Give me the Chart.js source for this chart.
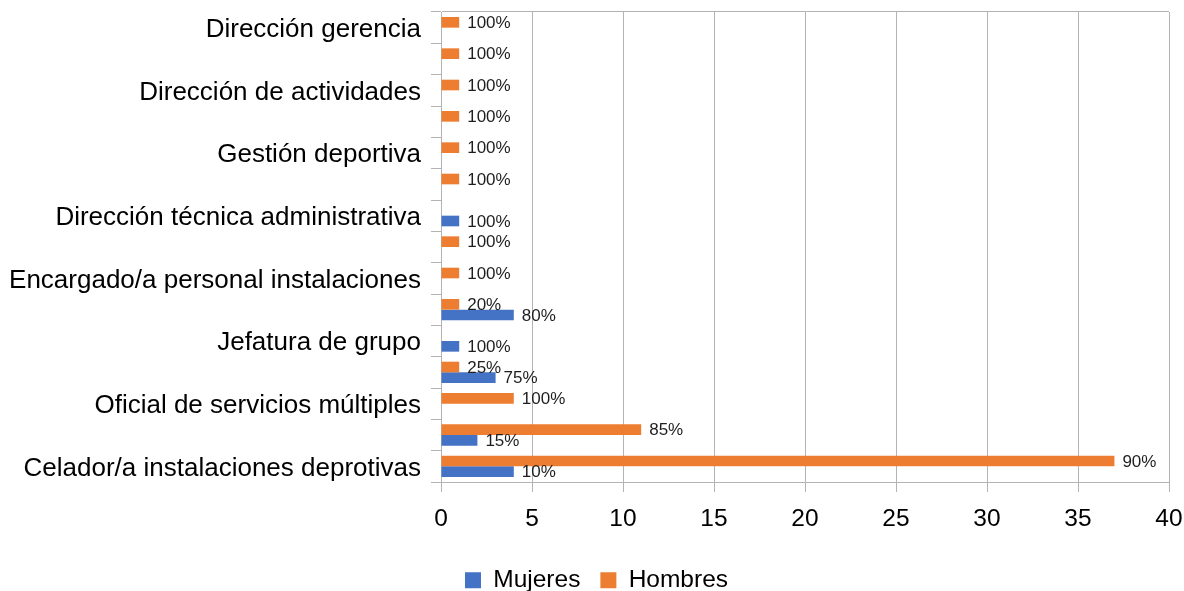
<!DOCTYPE html>
<html>
<head>
<meta charset="utf-8">
<script src="https://cdn.jsdelivr.net/npm/chart.js@4"></script>
<style>
  html, body { margin: 0; padding: 0; background: #ffffff; }
  canvas { display: block; }
</style>
</head>
<body>
<canvas id="c" width="1184" height="591"></canvas>
<script>
// Categories listed top to bottom (unlabeled rows in the reference have '' labels)
const categories = [
  'Dirección gerencia', '',
  'Dirección de actividades', '',
  'Gestión deportiva', '',
  'Dirección técnica administrativa', '',
  'Encargado/a personal instalaciones', '',
  'Jefatura de grupo', '',
  'Oficial de servicios múltiples', '',
  'Celador/a instalaciones deprotivas'
];
const mujeres = [0, 0, 0, 0, 0, 0, 1, 0, 0, 4, 1, 3, 0, 2, 4];
const hombres = [1, 1, 1, 1, 1, 1, 0, 1, 1, 1, 0, 1, 4, 11, 37];
const mujeresPct = [null, null, null, null, null, null, '100%', null, null, '80%', '100%', '75%', null, '15%', '10%'];
const hombresPct = ['100%', '100%', '100%', '100%', '100%', '100%', null, '100%', '100%', '20%', null, '25%', '100%', '85%', '90%'];
const xTicks = [0, 5, 10, 15, 20, 25, 30, 35, 40];

const FONT = '"Liberation Sans", Arial, sans-serif';
const GRID = '#b3b3b3';
Chart.defaults.font.family = FONT;
Chart.defaults.color = '#000000';

const pctLabels = {
  id: 'pctLabels',
  afterDatasetsDraw(chart) {
    const ctx = chart.ctx;
    ctx.save();
    ctx.font = '17px ' + FONT;
    ctx.fillStyle = '#1e1e1e';
    ctx.textAlign = 'left';
    ctx.textBaseline = 'middle';
    chart.data.datasets.forEach((ds, di) => {
      const meta = chart.getDatasetMeta(di);
      meta.data.forEach((bar, i) => {
        const txt = ds.pct[i];
        if (!txt) return;
        ctx.fillText(txt, bar.x + 8, bar.y + 1);
      });
    });
    ctx.restore();
  }
};

// nudge the legend block slightly right, as in the reference
const legendShift = {
  id: 'legendShift',
  afterLayout(chart) {
    if (chart.legend) { chart.legend.left += 12; chart.legend.right += 12; }
  }
};

new Chart(document.getElementById('c'), {
  type: 'bar',
  data: {
    labels: categories,
    datasets: [
      { label: 'Hombres', data: hombres, pct: hombresPct, backgroundColor: '#ed7d31', borderWidth: 0 },
      { label: 'Mujeres', data: mujeres, pct: mujeresPct, backgroundColor: '#4472c4', borderWidth: 0 }
    ]
  },
  options: {
    indexAxis: 'y',
    responsive: false,
    animation: false,
    devicePixelRatio: 1,
    categoryPercentage: 0.68,
    barPercentage: 1.0,
    layout: { padding: { top: 12, right: 15, left: 0, bottom: 0 } },
    plugins: {
      legend: {
        position: 'bottom',
        reverse: true,
        maxHeight: 43,
        labels: {
          font: { size: 24.5, family: FONT },
          color: '#000000',
          boxWidth: 16,
          boxHeight: 16,
          padding: 20
        }
      },
      tooltip: { enabled: false }
    },
    scales: {
      x: {
        min: 0,
        max: 40,
        afterBuildTicks(scale) { scale.ticks = xTicks.map(v => ({ value: v })); },
        afterFit(scale) { scale.height = 66; scale.paddingLeft = 0; scale.paddingRight = 0; },
        ticks: { font: { size: 24.5, family: FONT }, color: '#000000', padding: 13 },
        grid: { color: GRID, tickColor: GRID, tickLength: 10, lineWidth: 1 },
        border: { color: GRID }
      },
      y: {
        afterFit(scale) { scale.width = 441; scale.paddingTop = 0; scale.paddingBottom = 0; },
        ticks: { font: { size: 26, family: FONT }, color: '#000000', padding: 10, autoSkip: false, labelOffset: 2 },
        grid: {
          offset: true,
          drawOnChartArea: true,
          color: (c) => (c.index === 0 ? GRID : 'rgba(0,0,0,0)'),
          tickColor: GRID,
          tickLength: 10
        },
        border: { color: GRID }
      }
    }
  },
  plugins: [pctLabels, legendShift]
});
</script>
</body>
</html>
